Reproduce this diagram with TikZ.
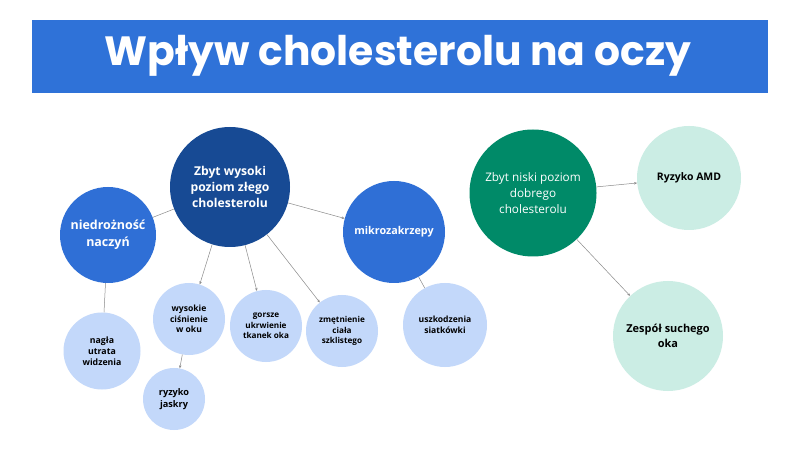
\documentclass[tikz,border=0pt]{standalone}
\usepackage{fontspec}
\setmainfont{Open Sans}
\newfontfamily\titlefont{Poppins}
\usetikzlibrary{arrows.meta}
\definecolor{titleblue}{HTML}{2F72D8}
\definecolor{darkblue}{HTML}{174A94}
\definecolor{midblue}{HTML}{2F6FD6}
\definecolor{lightblue}{HTML}{C3D8FA}
\definecolor{darkgreen}{HTML}{008A68}
\definecolor{mint}{HTML}{CBEDE4}
\definecolor{edgegray}{HTML}{8A8A8A}
\begin{document}
\begin{tikzpicture}[x=1bp,y=-1bp,
  bub/.style={circle,inner sep=0pt,align=center},
  edge/.style={draw=edgegray,line width=0.5bp},
  arr/.style={edge,-{Stealth[length=3bp,width=2.5bp]}}]
\useasboundingbox[fill=white] (0,0) rectangle (800,450);
\fill[titleblue] (32,20) rectangle (768,93);
\node[text=white,font=\titlefont\bfseries\fontsize{41}{48}\selectfont] (title) at (398,56) {Wpływ cholesterolu na oczy};

\node[bub,fill=darkblue,minimum size=120bp,text=white,font=\bfseries\fontsize{12.2}{16.5}\selectfont] (high) at (230,187) {Zbyt wysoki\\poziom złego\\cholesterolu};
\node[bub,fill=midblue,minimum size=96bp,text=white,font=\bfseries\fontsize{12.5}{17.5}\selectfont] (nied) at (108,235) {niedrożność\\naczyń};
\node[bub,fill=midblue,minimum size=102bp,text=white,font=\bfseries\fontsize{10.8}{15}\selectfont] (mikro) at (394,232) {mikrozakrzepy};

\node[bub,fill=lightblue,minimum size=72bp,font=\bfseries\fontsize{8.6}{10.3}\selectfont] (wys) at (189,319) {wysokie\\ciśnienie\\w oku};
\node[bub,fill=lightblue,minimum size=72bp,font=\bfseries\fontsize{8.2}{10.3}\selectfont] (gor) at (266,326) {gorsze\\ukrwienie\\tkanek oka};
\node[bub,fill=lightblue,minimum size=72bp,font=\bfseries\fontsize{8.2}{10.5}\selectfont] (zme) at (342,331) {zmętnienie\\ciała\\szklistego};
\node[bub,fill=lightblue,minimum size=84bp,font=\bfseries\fontsize{8.6}{10.5}\selectfont] (usz) at (445,325) {uszkodzenia\\siatkówki};
\node[bub,fill=lightblue,minimum size=77bp,font=\bfseries\fontsize{8.8}{10.8}\selectfont] (nag) at (102,351) {nagła\\utrata\\widzenia};
\node[bub,fill=lightblue,minimum size=62bp,font=\bfseries\fontsize{9.2}{11.5}\selectfont] (jas) at (174,399) {ryzyko\\jaskry};

\node[bub,fill=darkgreen,minimum size=127bp,text=white,font=\fontsize{11.8}{16}\selectfont] (low) at (533,193) {Zbyt niski poziom\\dobrego\\cholesterolu};
\node[bub,fill=mint,minimum size=104bp,font=\bfseries\fontsize{10.5}{12}\selectfont] (amd) at (689,178) {Ryzyko AMD};
\node[bub,fill=mint,minimum size=110bp,font=\bfseries\fontsize{11}{15}\selectfont] (zes) at (668,336) {Zespół suchego\\oka};

\draw[edge] (high) -- (nied);
\draw[arr] (high) -- (mikro);
\draw[arr] (high) -- (wys);
\draw[arr] (high) -- (gor);
\draw[arr] (high) -- (zme);
\draw[edge] (nied) -- (nag);
\draw[edge] (mikro) -- (usz);
\draw[arr] (wys) -- (jas);
\draw[arr] (low) -- (amd);
\draw[arr] (low) -- (zes);
\end{tikzpicture}
\end{document}
